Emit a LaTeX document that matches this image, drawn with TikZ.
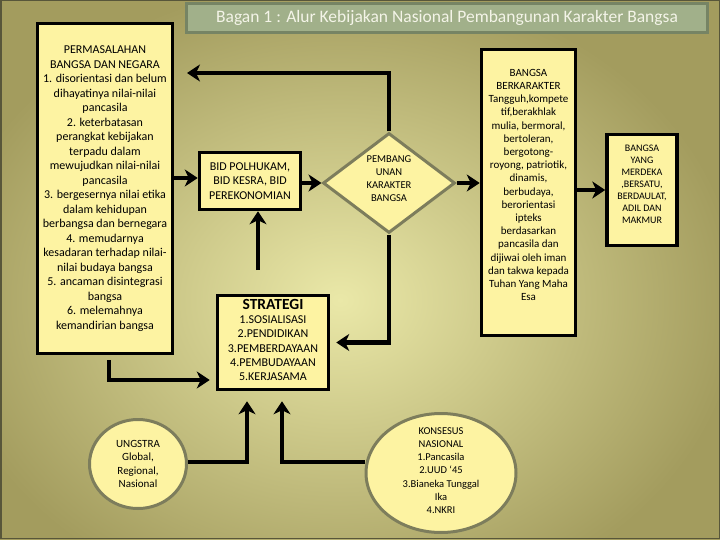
\documentclass[tikz,border=0pt]{standalone}
\usepackage{fontspec}
\setmainfont{Carlito}
\usetikzlibrary{shapes.geometric,arrows.meta}
\definecolor{boxfill}{RGB}{253,243,162}
\definecolor{olivedge}{RGB}{125,125,92}
\definecolor{titlefill}{RGB}{161,176,138}
\definecolor{titleedge}{RGB}{118,132,100}
\definecolor{bginner}{RGB}{234,232,168}
\definecolor{bgouter}{RGB}{163,156,94}
\definecolor{framecol}{RGB}{88,86,58}
\definecolor{titletext}{RGB}{244,244,232}
\tikzset{
  blackbox/.style={draw=black, line width=3.5pt, fill=boxfill, inner sep=0pt},
  olivebox/.style={draw=olivedge, line width=3pt, fill=boxfill, inner sep=0pt},
  arr/.style={line width=4.5pt, -{Stealth[length=13pt,width=17pt,inset=4pt]}},
  txt/.style={align=center, inner sep=0pt, text=black},
}
\begin{document}
\begin{tikzpicture}[x=1pt,y=-1pt]
\useasboundingbox (0,0) rectangle (720,540);
\begin{scope}
\clip (0,0) rectangle (720,540);
\shade[inner color=bginner, outer color=bgouter] (-60,-20) rectangle (740,620);
\end{scope}
\draw[line width=1.5pt, framecol] (0.75,0.75) rectangle (719.25,538.5);

% title
\node[draw=titleedge, line width=3pt, fill=titlefill, minimum width=521pt, minimum height=29pt, inner sep=0pt,
      text=titletext, font=\fontsize{17.5}{20}\selectfont] (title) at (447,18)
  {Bagan 1 : Alur Kebijakan Nasional Pembangunan Karakter Bangsa};

% left problem box
\node[blackbox, minimum width=135pt, minimum height=330pt, txt, font=\fontsize{12}{14.5}\selectfont] (perm) at (105,188.5)
  {PERMASALAHAN\\BANGSA DAN NEGARA\\1. disorientasi dan belum\\dihayatinya nilai-nilai\\pancasila\\2. keterbatasan\\perangkat kebijakan\\terpadu dalam\\mewujudkan nilai-nilai\\pancasila\\3. bergesernya nilai etika\\dalam kehidupan\\berbangsa dan bernegara\\4. memudarnya\\kesadaran terhadap nilai-\\nilai budaya bangsa\\5. ancaman disintegrasi\\bangsa\\6. melemahnya\\kemandirian bangsa};

% BID box
\node[blackbox, minimum width=101pt, minimum height=57pt, txt, font=\fontsize{12}{14.5}\selectfont] (bid) at (250,181)
  {BID POLHUKAM,\\BID KESRA, BID\\PEREKONOMIAN};

% diamond
\node[olivebox, diamond, minimum width=132pt, minimum height=100pt] (dia) at (389,183) {};
\node[txt, font=\fontsize{10.5}{13}\selectfont] (diatxt) at (389,179) {PEMBANG\\UNAN\\KARAKTER\\BANGSA};

% bangsa berkarakter
\node[blackbox, minimum width=94pt, minimum height=286pt] (bk) at (528.5,192.5) {};
\node[txt, font=\fontsize{11}{13.2}\selectfont] (bktxt) at (528.5,185)
  {BANGSA\\BERKARAKTER\\Tangguh,kompete\\tif,berakhlak\\mulia, bermoral,\\bertoleran,\\bergotong-\\royong, patriotik,\\dinamis,\\berbudaya,\\berorientasi\\ipteks\\berdasarkan\\pancasila dan\\dijiwai oleh iman\\dan takwa kepada\\Tuhan Yang Maha\\Esa};

% final box
\node[blackbox, minimum width=70pt, minimum height=111pt] (fin) at (642,190) {};
\node[txt, font=\fontsize{10}{12}\selectfont] (fintxt) at (642,184.5)
  {BANGSA\\YANG\\MERDEKA\\,BERSATU,\\BERDAULAT,\\ADIL DAN\\MAKMUR};

% strategi
\node[blackbox, minimum width=111pt, minimum height=94pt] (strat) at (273,342.5) {};
\node[txt, font=\fontsize{12}{14.3}\selectfont] (strattxt) at (273,340)
  {{\fontsize{15.5}{17}\selectfont\bfseries STRATEGI}\\1.SOSIALISASI\\2.PENDIDIKAN\\3.PEMBERDAYAAN\\4.PEMBUDAYAAN\\5.KERJASAMA};

% ellipses
\node[olivebox, ellipse, minimum width=97pt, minimum height=89pt, txt, font=\fontsize{11}{13.5}\selectfont] (ung) at (138,464)
  {UNGSTRA\\Global,\\Regional,\\Nasional};
\node[olivebox, ellipse, minimum width=150pt, minimum height=119pt] (kon) at (441,473) {};
\node[txt, font=\fontsize{10.5}{13.2}\selectfont] (kontxt) at (441,470.5)
  {KONSESUS\\NASIONAL\\1.Pancasila\\2.UUD `45\\3.Bianeka Tunggal\\Ika\\4.NKRI};

% connectors
\coordinate (fb) at (187,73);
\draw[arr] (dia.north) |- (fb);
\draw[arr] (perm.east |- 0,178) -- (bid.west |- 0,178);
\draw[arr] (bid.east |- dia.west) -- (dia.west);
\draw[arr] (dia.east) -- (dia.east -| bk.west);
\draw[arr] (bk.east |- fin.west) -- (fin.west);
\draw[arr, shorten >=6pt] (dia.south) |- (strat.east);
\coordinate (sb) at (258,270);
\draw[arr] (sb) -- (sb |- bid.south);
\coordinate (ps) at (109,360);
\draw[arr, shorten >=6pt] (ps) |- (strat.west |- 0,380);
\draw[arr, shorten >=10pt] (ung.east |- 0,462) -| ([xshift=-26pt]strat.south);
\draw[arr, shorten >=10pt] (kon.west |- 0,462) -| ([xshift=9pt]strat.south);
\end{tikzpicture}
\end{document}
